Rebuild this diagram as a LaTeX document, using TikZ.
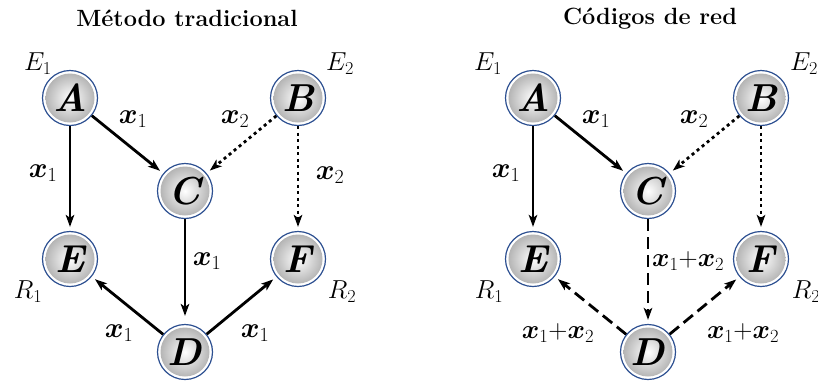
\RequirePackage{fix-cm}
\documentclass[tikz,border=0pt]{standalone}
\usepackage{amsmath}
\usetikzlibrary{arrows.meta}
\definecolor{ringblue}{RGB}{45,80,145}
\begin{document}
\begin{tikzpicture}[x=1pt,y=-1pt,
 nd/.style={circle, minimum size=55pt, inner sep=0pt, draw=ringblue, line width=1.2pt, fill=white,
   font=\fontsize{39}{39}\selectfont\bfseries\itshape,
   path picture={\shade[inner color=white, outer color=gray!65] (path picture bounding box.center) circle (24.5pt);}},
 lab/.style={font=\fontsize{26}{26}\selectfont},
 el/.style={font=\fontsize{28.5}{28.5}\selectfont},
 els/.style={font=\fontsize{26.5}{26.5}\selectfont, inner sep=1pt},
 ttl/.style={font=\fontsize{23.5}{23.5}\selectfont\bfseries},
 ar/.style={line width=2.8pt, -{Stealth[length=12pt,width=8.5pt,inset=3pt]}, shorten >=4pt},
 dt/.style={ar, dash pattern=on 3pt off 3.5pt},
 ds/.style={ar, dash pattern=on 12pt off 6pt}]
\path[use as bounding box] (0,0) rectangle (818,381);

% ---------- left: Metodo tradicional ----------
\node[ttl] (t1) at (187,18) {Método tradicional};
\node[nd] (A) at (70,98) {A};
\node[nd] (B) at (298,98) {B};
\node[nd] (C) at (185,191) {C};
\node[nd] (E) at (70,259) {E};
\node[nd] (F) at (298,259) {F};
\node[nd] (D) at (185,352) {D};
\node[lab] (e1) at (38,64) {$E_1$};
\node[lab] (e2) at (340,64) {$E_2$};
\node[lab] (r1) at (28,292) {$R_1$};
\node[lab] (r2) at (342,292) {$R_2$};
\draw[ar] (A) -- (C);
\draw[ar] (A) -- (E);
\draw[dt] (B) -- (C);
\draw[dt] (B) -- (F);
\draw[ar, shorten >=8pt] (C) -- (D);
\draw[ar] (D) -- (E);
\draw[ar] (D) -- (F);
\node[el] (l1) at (133,119) {$\boldsymbol{x}_1$};
\node[el] (l2) at (235,119) {$\boldsymbol{x}_2$};
\node[el] (l3) at (43,173) {$\boldsymbol{x}_1$};
\node[el] (l4) at (330,175) {$\boldsymbol{x}_2$};
\node[el] (l5) at (207,261) {$\boldsymbol{x}_1$};
\node[el] (l6) at (119,333) {$\boldsymbol{x}_1$};
\node[el] (l7) at (255,333) {$\boldsymbol{x}_1$};

% ---------- right: Codigos de red ----------
\node[ttl] (t2) at (650,19) {Códigos de red};
\node[nd] (A2) at (533,98) {A};
\node[nd] (B2) at (761,98) {B};
\node[nd] (C2) at (648,191) {C};
\node[nd] (E2) at (533,259) {E};
\node[nd] (F2) at (761,259) {F};
\node[nd] (D2) at (648,352) {D};
\node[lab] (e12) at (488,64) {$E_1$};
\node[lab] (e22) at (804,64) {$E_2$};
\node[lab] (r12) at (489,292) {$R_1$};
\node[lab] (r22) at (806,292) {$R_2$};
\draw[ar] (A2) -- (C2);
\draw[ar] (A2) -- (E2);
\draw[dt] (B2) -- (C2);
\draw[dt] (B2) -- (F2);
\draw[ds] (C2) -- (D2);
\draw[ds] (D2) -- (E2);
\draw[ds] (D2) -- (F2);
\node[el] (m1) at (596,119) {$\boldsymbol{x}_1$};
\node[el] (m2) at (694,119) {$\boldsymbol{x}_2$};
\node[el] (m3) at (506,173) {$\boldsymbol{x}_1$};
\node[els, anchor=west] (m5) at (651,261) {$\boldsymbol{x}_1{+}\boldsymbol{x}_2$};
\node[els] (m6) at (558,333) {$\boldsymbol{x}_1{+}\boldsymbol{x}_2$};
\node[els] (m7) at (743,333) {$\boldsymbol{x}_1{+}\boldsymbol{x}_2$};
\end{tikzpicture}
\end{document}
